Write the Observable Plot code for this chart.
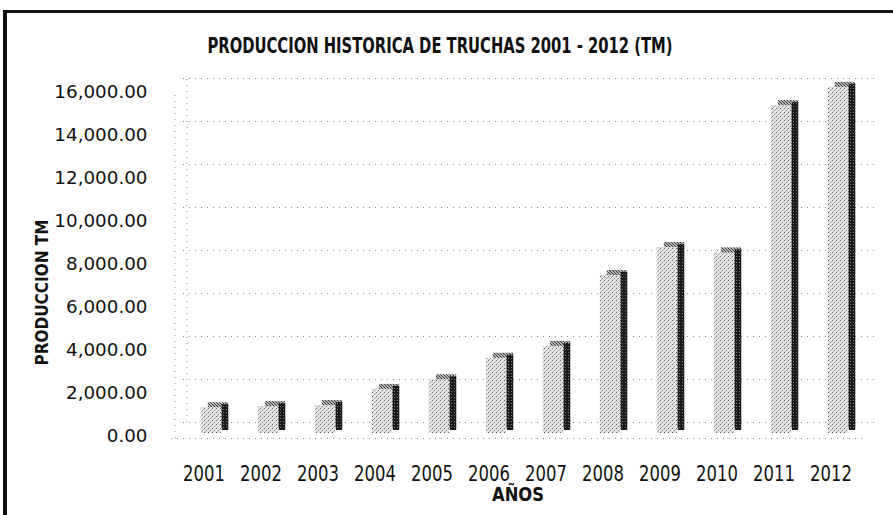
<!DOCTYPE html>
<html>
<head>
<meta charset="utf-8">
<script src="https://cdn.jsdelivr.net/npm/d3@7"></script>
<script src="https://cdn.jsdelivr.net/npm/@observablehq/plot@0.6"></script>
<style>
html, body { margin: 0; padding: 0; background: #fff; }
#wrap { position: relative; width: 893px; height: 515px; overflow: hidden; }
#chart { position: absolute; left: 0; top: 0; }
#border { position: absolute; left: 3px; top: 10px; width: 900px; height: 520px;
  border-top: 3px solid #111; border-left: 4px solid #111; box-sizing: border-box; pointer-events: none; }
</style>
</head>
<body>
<div id="wrap"><div id="chart"></div><div id="border"></div></div>
<script>
// ---- data ----
const years = ["2001", "2002", "2003", "2004", "2005", "2006", "2007", "2008", "2009", "2010", "2011", "2012"];
const production = [1200, 1250, 1300, 2050, 2500, 3500, 4050, 7350, 8650, 8400, 15250, 16100];
const yTicks = [0, 2000, 4000, 6000, 8000, 10000, 12000, 14000, 16000];
const titleText = "PRODUCCION HISTORICA DE TRUCHAS 2001 - 2012 (TM)";
const yLabelText = "PRODUCCION TM";
const xLabelText = "AÑOS";

const data = years.map((year, i) => ({year, value: production[i]}));
const FONT = "'Liberation Sans Narrow', 'DejaVu Sans Condensed', 'Arial Narrow', sans-serif";
const gridStyle = {stroke: "#8a8a8a", strokeWidth: 1, strokeDasharray: "1 5"};
const centered = {textAnchor: "middle", lineAnchor: "middle", fontWeight: "bold", fill: "#111"};

const svg = Plot.plot({
  width: 893,
  height: 515,
  marginLeft: 171,
  marginRight: 31,
  marginTop: 89,
  marginBottom: 82,
  style: {fontFamily: FONT, color: "#111", background: "transparent"},
  x: {type: "band", domain: years, padding: 0},
  y: {domain: [0, 16000]},
  marks: [
    // back wall grid lines + floor
    Plot.ruleY(yTicks, {...gridStyle, dx: 12, dy: -11}),
    Plot.ruleY([0], {...gridStyle, dy: 5}),
    // left side wall
    Plot.ruleX([years[0]], {y1: 0, y2: 16000, dx: -29, dy: 5, ...gridStyle}),
    Plot.ruleX([years[0]], {y1: 0, y2: 16000, dx: -17, dy: -11, ...gridStyle}),
    // 3D bars: back/top face, side face, front face
    Plot.barY(data, {x: "year", y: "value", insetLeft: 25.8, insetRight: 10.8, dx: 7, dy: -5, fill: "#8d8d8d", className: "bartop"}),
    Plot.barY(data, {x: "year", y: "value", insetLeft: 46.8, insetRight: 3.8, dy: -3, fill: "#1e1e1e", className: "barside"}),
    Plot.barY(data, {x: "year", y: "value", insetLeft: 25.8, insetRight: 10.8, fill: "#dcdcdc", className: "barfront"}),
    // axes
    Plot.axisY({ticks: yTicks, tickFormat: d3.format(",.2f"), tickSize: 0, tickPadding: 24, dy: 3, fontSize: 18.5, label: null, className: "yax"}),
    Plot.axisX({tickSize: 0, tickPadding: 33, fontSize: 21, label: null, className: "xax"}),
    // titles
    Plot.text([titleText], {frameAnchor: "top", dx: -77, dy: -43, fontSize: 21, ...centered, className: "ttl"}),
    Plot.text([yLabelText], {frameAnchor: "left", rotate: -90, dx: -129, dy: 31, fontSize: 17, ...centered, className: "ylab"}),
    Plot.text([xLabelText], {frameAnchor: "bottom", dx: 1, dy: 61, fontSize: 19, ...centered, className: "xlab"})
  ]
});

document.getElementById("chart").append(svg);

// ---- halftone-like fills ----
const root = d3.select(svg);
const defs = root.insert("defs", ":first-child");
function pattern(id, size, bg, dots) {
  const p = defs.append("pattern").attr("id", id).attr("patternUnits", "userSpaceOnUse")
    .attr("width", size).attr("height", size);
  p.append("rect").attr("width", size).attr("height", size).attr("fill", bg);
  dots.forEach(([x, y, c]) => p.append("rect").attr("x", x).attr("y", y).attr("width", 1).attr("height", 1).attr("fill", c));
}
pattern("pFront", 4, "#e6e6e6", [[0, 0, "#5e5e5e"], [2, 2, "#8e8e8e"], [3, 1, "#b8b8b8"], [1, 3, "#b8b8b8"]]);
pattern("pTop", 3, "#b4b4b4", [[0, 0, "#3a3a3a"], [1, 1, "#3a3a3a"], [2, 2, "#3a3a3a"]]);
pattern("pSide", 3, "#1a1a1a", [[1, 1, "#777"]]);
root.selectAll(".barfront rect").attr("fill", "url(#pFront)");
root.selectAll(".bartop rect").attr("fill", "url(#pTop)");
root.selectAll(".barside rect").attr("fill", "url(#pSide)");

// ---- condensed lettering to match the reference typeface ----
function fit(sel, lengthFn) {
  root.selectAll(sel).each(function () {
    const w = this.getComputedTextLength();
    this.setAttribute("textLength", lengthFn(w, this));
    this.setAttribute("lengthAdjust", "spacingAndGlyphs");
  });
}
fit(".ttl text", () => 465);
fit(".xlab text", () => 52);
fit(".yax text", (w) => w * 1.1);
fit(".xax text", (w) => w * 0.87);
</script>
</body>
</html>
